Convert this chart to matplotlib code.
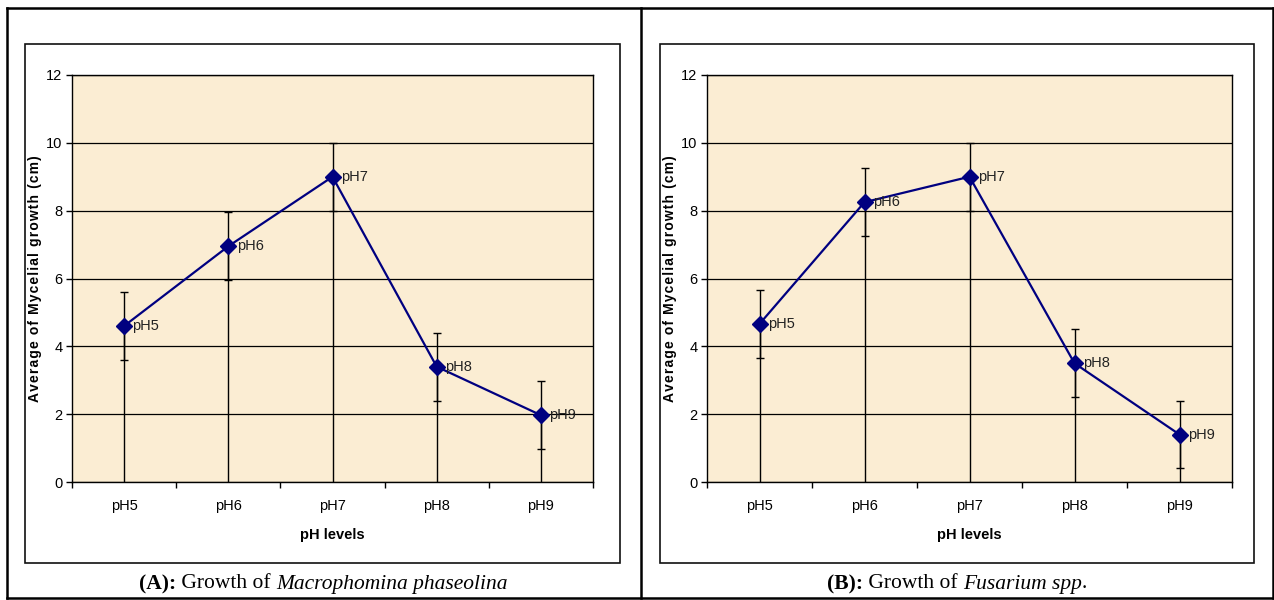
import matplotlib
matplotlib.use("Agg")
import matplotlib.pyplot as plt
from matplotlib.patches import Rectangle
from matplotlib.lines import Line2D

# pH levels and mean mycelial growth (cm) with standard error for each fungus
ph_levels = ["pH5", "pH6", "pH7", "pH8", "pH9"]
growth_macrophomina = [4.6, 6.95, 9.0, 3.4, 1.97]
growth_fusarium = [4.66, 8.25, 9.0, 3.5, 1.4]
error_macrophomina = [1.0, 1.0, 1.0, 1.0, 1.0]
error_fusarium = [1.0, 1.0, 1.0, 1.0, 1.0]

W, H = 1274, 600
fig = plt.figure(figsize=(W / 100, H / 100), dpi=100)
fig.patch.set_facecolor("white")

sans = ["Liberation Sans Narrow", "Liberation Sans", "DejaVu Sans"]
serif = ["Liberation Serif", "DejaVu Serif"]

# y label with a little extra letter spacing (hair spaces)
ylabel = "\u200a".join("Average of Mycelial growth (cm)")


def fx(x):
    return x / W


def fy(y):
    return 1 - y / H


def draw_panel(left, right, values, errors):
    ax = fig.add_axes([fx(left), fy(482), fx(right - left), 407 / H])
    ax.set_facecolor("#fbedd3")
    xs = list(range(len(ph_levels)))

    # drop lines from the axis up to each point
    ax.vlines(xs, 0, values, color="black", lw=1.0, zorder=2)
    ax.errorbar(xs, values, yerr=errors, fmt="none", ecolor="black",
                elinewidth=1.0, capsize=3, capthick=1.0, zorder=3)
    ax.plot(xs, values, color="#000080", lw=1.6, marker="D",
            markersize=8.5, markerfacecolor="#000080",
            markeredgecolor="#000080", zorder=4)
    for x, v, name in zip(xs, values, ph_levels):
        ax.annotate(name, (x, v), xytext=(6, 0), textcoords="offset points",
                    va="center", ha="left", fontsize=10.5, family=sans,
                    color="#222222", zorder=5)

    ax.set_xlim(-0.5, len(ph_levels) - 0.5)
    ax.set_ylim(0, 12)
    ax.set_yticks(range(0, 13, 2))
    ax.yaxis.grid(True, color="black", lw=0.9)
    ax.set_axisbelow(True)

    ax.set_xticks(xs)
    ax.set_xticklabels(ph_levels, family=sans, fontsize=10.5)
    ax.set_xticks([i - 0.5 for i in range(len(ph_levels) + 1)], minor=True)
    ax.tick_params(axis="x", which="major", length=0, pad=12)
    ax.tick_params(axis="x", which="minor", length=4, width=1, direction="out")
    ax.tick_params(axis="y", length=4, width=1, direction="out", pad=3,
                   labelsize=10.5)
    for lab in ax.get_yticklabels():
        lab.set_family(sans)
    for s in ax.spines.values():
        s.set_color("black")
        s.set_linewidth(1.0)

    ax.set_xlabel("pH levels", family=sans, fontsize=10.5, fontweight="bold",
                  labelpad=11)
    ax.set_ylabel(ylabel, family=["Liberation Sans", "DejaVu Sans"],
                  fontsize=10, fontweight="bold", labelpad=3)
    return ax


draw_panel(72, 593, growth_macrophomina, error_macrophomina)
draw_panel(707, 1232, growth_fusarium, error_fusarium)

# chart frames
for x0, x1 in [(25, 620), (660, 1254)]:
    fig.patches.append(Rectangle((fx(x0), fy(563)), fx(x1 - x0), 519 / H,
                                 transform=fig.transFigure, fill=False,
                                 edgecolor="#111111", lw=1.2))

# table borders
for xa, ya, xb, yb in [(7, 8, 1273, 8), (7, 598, 1273, 598), (7, 8, 7, 598),
                       (641, 8, 641, 598), (1273, 8, 1273, 598)]:
    fig.lines.append(Line2D([fx(xa), fx(xb)], [fy(ya), fy(yb)],
                            transform=fig.transFigure, color="black", lw=1.8))


def caption(cx, cy, parts):
    texts = []
    for s, weight, style in parts:
        texts.append(fig.text(0, fy(cy), s, family=serif, fontsize=15.5,
                              fontweight=weight, style=style, va="center",
                              ha="left"))
    fig.canvas.draw()
    r = fig.canvas.get_renderer()
    widths = [t.get_window_extent(r).width for t in texts]
    x = cx - sum(widths) / 2
    for t, w in zip(texts, widths):
        t.set_x(fx(x))
        x += w


caption(323, 584, [("(A):", "bold", "normal"), (" Growth of ", "normal", "normal"),
                   ("Macrophomina phaseolina", "normal", "italic")])
caption(957, 584, [("(B):", "bold", "normal"), (" Growth of ", "normal", "normal"),
                   ("Fusarium spp", "normal", "italic"), (".", "normal", "normal")])

fig.savefig("out.png", dpi=100)
